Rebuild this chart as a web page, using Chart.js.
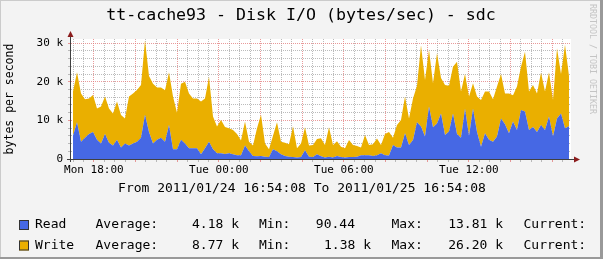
<!DOCTYPE html>
<html>
<head>
<meta charset="utf-8">
<script src="https://cdn.jsdelivr.net/npm/chart.js@4"></script>
<style>
  html, body { margin: 0; padding: 0; background: #f3f3f3; }
  canvas { display: block; }
</style>
</head>
<body>
<canvas id="myChart" width="603" height="259"></canvas>
<script>
// disk I/O in kbytes/s, one sample every STEP_HOUR starting at START_HOUR (hours since Mon 00:00)
const readK = [
  6.0, 9.5, 4.5, 5.5, 6.5, 7.0, 5.0, 4.0, 6.5, 4.2, 3.5, 5.0, 3.0, 4.0, 3.5, 4.0, 4.5, 5.5, 11.5, 7.0,
  4.0, 5.0, 5.5, 4.5, 8.8, 2.5, 2.5, 5.0, 4.0, 2.8, 2.8, 2.8, 1.2, 2.8, 4.5, 2.5, 1.5, 1.5, 1.3, 1.5,
  1.2, 1.0, 1.0, 3.5, 2.0, 0.8, 0.7, 0.8, 0.6, 0.5, 2.5, 2.0, 1.2, 0.8, 0.6, 0.5, 0.4, 0.5, 2.3, 0.6,
  0.5, 1.2, 0.7, 0.4, 0.6, 0.4, 0.8, 0.5, 0.4, 0.5, 0.5, 0.6, 1.0, 1.0, 1.0, 0.8, 1.0, 1.5, 1.0, 0.9,
  3.6, 3.0, 3.0, 6.7, 3.6, 4.9, 9.5, 8.4, 5.8, 13.6, 8.2, 9.2, 11.8, 6.2, 7.1, 11.8, 6.5, 5.5, 13.0, 6.0,
  13.0, 7.0, 3.2, 6.7, 5.0, 4.5, 5.8, 10.5, 9.0, 6.7, 9.7, 7.5, 12.7, 12.3, 7.5, 8.3, 7.0, 8.8, 7.5, 11.0,
  5.8, 10.5, 11.8, 8.0, 8.5
];
const writeK = [
  11.5, 13.0, 12.5, 10.0, 9.2, 9.6, 8.1, 9.6, 9.7, 8.9, 8.3, 9.9, 8.4, 6.5, 12.7, 13.0, 13.4, 13.7, 19.3, 14.5,
  15.5, 13.5, 13.0, 13.3, 13.7, 13.7, 9.5, 14.5, 16.0, 14.2, 12.9, 12.9, 13.7, 12.9, 16.8, 8.5, 6.9, 8.6, 7.0, 6.5,
  6.3, 5.5, 3.8, 6.2, 2.5, 2.7, 7.3, 10.7, 3.4, 2.0, 3.5, 7.5, 3.3, 3.4, 3.2, 8.0, 2.4, 3.5, 5.9, 2.9,
  3.1, 4.0, 4.7, 3.2, 7.6, 3.2, 3.8, 2.7, 2.4, 4.4, 3.1, 2.8, 2.0, 5.2, 2.6, 3.0, 4.3, 2.1, 5.5, 6.1,
  1.9, 5.8, 7.1, 9.5, 6.9, 10.8, 9.5, 21.1, 14.7, 14.7, 11.4, 18.2, 9.2, 13.0, 11.9, 12.1, 18.7, 12.0, 9.0, 10.2,
  6.6, 9.2, 12.1, 10.8, 12.5, 11.0, 13.0, 11.5, 8.0, 10.3, 6.8, 11.3, 11.2, 15.5, 10.0, 10.9, 10.0, 13.6, 10.0, 11.5,
  9.5, 18.2, 10.2, 21.6, 13.0
];
const START_HOUR = 16.998;
const STEP_HOUR = 0.192;
const X_MIN = 16.902;   // 2011/01/24 16:54:08
const X_MAX = 40.902;   // 2011/01/25 16:54:08
const Y_MAX = 31.1;

const xLabelHours = [18, 24, 30, 36];
const xLabels = ['Mon 18:00', 'Tue 00:00', 'Tue 06:00', 'Tue 12:00'];
const yLabelValues = [0, 10, 20, 30];
const yLabels = ['0', '10 k', '20 k', '30 k'];

const seriesNames = ['Read', 'Write'];
const seriesColors = ['#4668E4', '#EAAF00'];
const statAvg = ['4.18 k', '8.77 k'];
const statMin = ['90.44', '1.38 k'];
const statMax = ['13.81 k', '26.20 k'];

const MONO = '"DejaVu Sans Mono", monospace';
const RED_GRID = 'rgba(226, 120, 120, 0.75)';
const GRAY_GRID = 'rgba(170, 170, 170, 0.8)';

function toPoints(values) {
    return values.map((v, i) => ({ x: START_HOUR + i * STEP_HOUR, y: v }));
}

const rrdDecor = {
    id: 'rrdDecor',
    beforeDraw(chart) {
        const c = chart.ctx;
        const a = chart.chartArea;
        c.save();
        c.fillStyle = '#f3f3f3';
        c.fillRect(0, 0, chart.width, chart.height);
        // frame
        c.fillStyle = '#cbcbcb';
        c.fillRect(0, 0, chart.width, 1);
        c.fillRect(0, 0, 1, chart.height);
        c.fillStyle = '#999999';
        c.fillRect(chart.width - 3, 0, 3, chart.height);
        c.fillRect(0, chart.height - 2, chart.width, 2);
        // canvas
        c.fillStyle = '#ffffff';
        c.fillRect(a.left, a.top, a.right - a.left, a.bottom - a.top);
        c.restore();
    },
    afterDraw(chart) {
        const c = chart.ctx;
        const a = chart.chartArea;
        c.save();
        // axes
        c.strokeStyle = '#404040';
        c.lineWidth = 1;
        c.beginPath();
        c.moveTo(a.left - 0.5, a.bottom + 3);
        c.lineTo(a.left - 0.5, a.top - 4);
        c.moveTo(a.left - 4, a.bottom + 0.5);
        c.lineTo(a.right + 4, a.bottom + 0.5);
        c.stroke();
        c.fillStyle = '#8b1c1c';
        c.beginPath();
        c.moveTo(a.left - 0.5, a.top - 8);
        c.lineTo(a.left - 3.5, a.top - 2);
        c.lineTo(a.left + 2.5, a.top - 2);
        c.closePath();
        c.fill();
        c.beginPath();
        c.moveTo(a.right + 9, a.bottom + 0.5);
        c.lineTo(a.right + 3, a.bottom - 2.5);
        c.lineTo(a.right + 3, a.bottom + 3.5);
        c.closePath();
        c.fill();

        // title
        c.fillStyle = '#000';
        c.textBaseline = 'middle';
        c.textAlign = 'center';
        c.font = '16.6px ' + MONO;
        c.fillText('tt-cache93 - Disk I/O (bytes/sec) - sdc', 301, 16);
        c.font = '13px ' + MONO;
        c.fillText('From 2011/01/24 16:54:08 To 2011/01/25 16:54:08', 302, 189);

        // legend
        c.textAlign = 'left';
        const rows = [225, 245.5];
        rows.forEach((y, i) => {
            c.fillStyle = seriesColors[i];
            c.fillRect(19, y - 5, 10, 10);
            c.strokeStyle = '#333';
            c.strokeRect(19.5, y - 4.5, 9, 9);
            c.fillStyle = '#000';
            c.fillText(seriesNames[i], 35, y);
            c.fillText('Average:', 95.5, y);
            c.textAlign = 'right';
            c.fillText(statAvg[i], 239, y);
            c.fillText(statMin[i], i === 0 ? 355 : 371, y);
            c.fillText(statMax[i], 503, y);
            c.textAlign = 'left';
            c.fillText('Min:', 259, y);
            c.fillText('Max:', 391.5, y);
            c.fillText('Current:', 523.5, y);
        });

        // signature
        c.translate(592, 4);
        c.rotate(Math.PI / 2);
        c.fillStyle = '#c4c4c4';
        c.font = '8.3px ' + MONO;
        c.textAlign = 'left';
        c.fillText('RRDTOOL / TOBI OETIKER', 0, 0);
        c.restore();
    }
};

const ctx = document.getElementById('myChart').getContext('2d');
const myChart = new Chart(ctx, {
    type: 'line',
    data: {
        datasets: [{
            label: seriesNames[0],
            data: toPoints(readK),
            backgroundColor: seriesColors[0],
            borderWidth: 0,
            pointRadius: 0,
            tension: 0,
            fill: 'origin'
        }, {
            label: seriesNames[1],
            data: toPoints(writeK),
            backgroundColor: seriesColors[1],
            borderWidth: 0,
            pointRadius: 0,
            tension: 0,
            fill: '-1'
        }]
    },
    options: {
        responsive: false,
        animation: false,
        devicePixelRatio: 1,
        layout: {
            padding: { left: 0, right: 32, top: 39, bottom: 76 }
        },
        plugins: {
            legend: { display: false },
            tooltip: { enabled: false },
            title: { display: false }
        },
        scales: {
            x: {
                type: 'linear',
                min: X_MIN,
                max: X_MAX,
                afterBuildTicks(scale) {
                    const ticks = [];
                    for (let h = 17; h <= 40.5; h += 0.5) ticks.push({ value: h });
                    scale.ticks = ticks;
                },
                afterFit(scale) { scale.height = 24; },
                border: { display: false, dash: [1, 1] },
                grid: {
                    color: c => (c.tick && c.tick.value % 2 === 0) ? RED_GRID : GRAY_GRID,
                    tickColor: c => (c.tick && c.tick.value % 2 === 0) ? RED_GRID : GRAY_GRID,
                    tickLength: 3,
                    lineWidth: 1
                },
                ticks: {
                    autoSkip: false,
                    maxRotation: 0,
                    padding: 2,
                    color: '#000',
                    font: { family: MONO, size: 11 },
                    callback: v => {
                        const i = xLabelHours.indexOf(v);
                        return i >= 0 ? xLabels[i] : '';
                    }
                }
            },
            y: {
                type: 'linear',
                stacked: true,
                min: 0,
                max: Y_MAX,
                afterBuildTicks(scale) {
                    const ticks = [];
                    for (let v = 0; v <= 30; v += 2) ticks.push({ value: v });
                    scale.ticks = ticks;
                },
                afterFit(scale) { scale.width = 71; },
                border: { display: false, dash: [1, 1] },
                grid: {
                    color: c => (c.tick && c.tick.value % 10 === 0) ? RED_GRID : GRAY_GRID,
                    tickColor: c => (c.tick && c.tick.value % 10 === 0) ? RED_GRID : GRAY_GRID,
                    tickLength: 3,
                    lineWidth: 1
                },
                title: {
                    display: true,
                    text: 'bytes per second',
                    color: '#000',
                    font: { family: MONO, size: 11.5 },
                    padding: { top: 3, bottom: 0 }
                },
                ticks: {
                    autoSkip: false,
                    padding: 5,
                    color: '#000',
                    font: { family: MONO, size: 11 },
                    callback: v => {
                        const i = yLabelValues.indexOf(v);
                        return i >= 0 ? yLabels[i] : '';
                    }
                }
            }
        }
    },
    plugins: [rrdDecor]
});
</script>
</body>
</html>
